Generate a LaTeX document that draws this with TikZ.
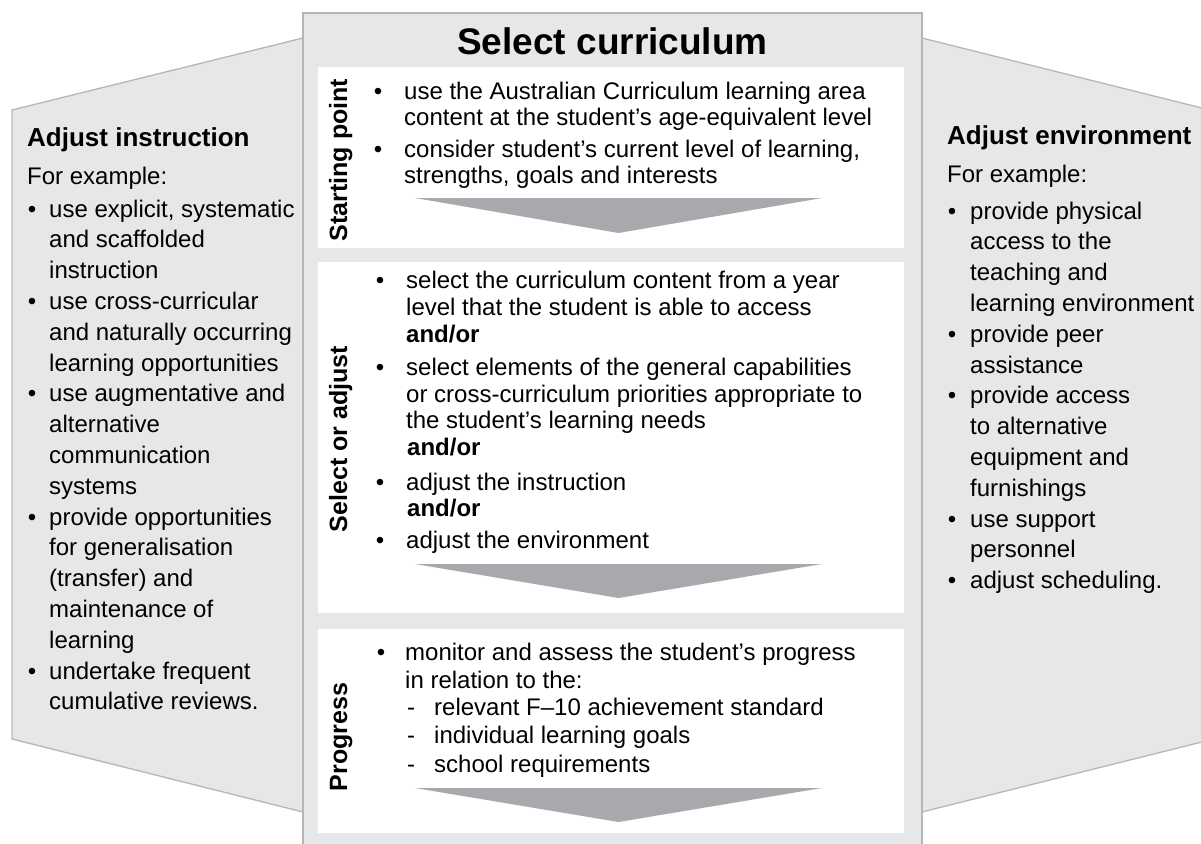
\documentclass[tikz,border=0pt]{standalone}
\usepackage{fontspec}
\setmainfont{Liberation Sans}
\definecolor{panel}{HTML}{E6E7E8}
\definecolor{edge}{HTML}{B4B6B8}
\definecolor{arrowgrey}{HTML}{A7A9AC}
\begin{document}
\begin{tikzpicture}[x=1pt,y=-1pt,
  body/.style={anchor=base west, inner sep=0pt, font=\fontsize{24}{24}\selectfont},
  bodyb/.style={anchor=base west, inner sep=0pt, font=\fontsize{24}{24}\selectfont\bfseries},
  head/.style={anchor=base west, inner sep=0pt, font=\fontsize{26}{26}\selectfont\bfseries},
  dot/.style={anchor=base, inner sep=0pt, font=\fontsize{24}{24}\selectfont},
  side/.style={rotate=90, anchor=base, inner sep=0pt, font=\fontsize{25}{25}\selectfont\bfseries},
  panelshape/.style={fill=panel, draw=edge, line width=1.3pt},
  card/.style={fill=white},
  downarrow/.style={fill=arrowgrey}]
\useasboundingbox (0,0) rectangle (1201,843);
\clip (0,0) rectangle (1201,843);

% side panels
\path[panelshape] (12,110) -- (303,38) -- (303,812) -- (12,739) -- cycle;
\path[panelshape] (922,38) -- (1206,109) -- (1206,741) -- (922,812) -- cycle;

% central panel and its three cards
\path[panelshape] (303,13) rectangle (922,860);
\path[card] (318,67) rectangle (904,248);
\path[card] (318,262) rectangle (904,613);
\path[card] (318,629) rectangle (904,833);

% downward chevrons
\path[downarrow] (415,198) -- (822,198) -- (618.5,233) -- cycle;
\path[downarrow] (415,564) -- (822,564) -- (618.5,598) -- cycle;
\path[downarrow] (415,788) -- (822,788) -- (618.5,822) -- cycle;

% title
\node[anchor=base, inner sep=0pt, font=\fontsize{37}{37}\selectfont\bfseries] (title) at (612.5,55) {Select curriculum};

% vertical stage labels
\node[side] (lstart) at (347,160) {Starting point};
\node[side] (lselect) at (347,439) {Select or adjust};
\node[side] (lprog) at (347,737) {Progress};

% starting point
\node[dot] (s1d) at (378,99) {•};
\node[body] (s1a) at (404,99) {use the Australian Curriculum learning area};
\node[body] (s1b) at (404,125) {content at the student’s age-equivalent level};
\node[dot] (s2d) at (378,157) {•};
\node[body] (s2a) at (404,157) {consider student’s current level of learning,};
\node[body] (s2b) at (404,183) {strengths, goals and interests};

% select or adjust
\node[dot] (a1d) at (380,288) {•};
\node[body] (a1a) at (406,288) {select the curriculum content from a year};
\node[body] (a1b) at (406,315) {level that the student is able to access};
\node[bodyb] (a1c) at (406,342) {and/or};
\node[dot] (a2d) at (380,375) {•};
\node[body] (a2a) at (406,375) {select elements of the general capabilities};
\node[body] (a2b) at (406,402) {or cross-curriculum priorities appropriate to};
\node[body] (a2c) at (406,428) {the student’s learning needs};
\node[bodyb] (a2e) at (407,455) {and/or};
\node[dot] (a3d) at (380,490) {•};
\node[body] (a3a) at (406,490) {adjust the instruction};
\node[bodyb] (a3b) at (407,516) {and/or};
\node[dot] (a4d) at (380,548) {•};
\node[body] (a4a) at (406,548) {adjust the environment};

% progress
\node[dot] (p1d) at (381,660) {•};
\node[body] (p1a) at (405,660) {monitor and assess the student’s progress};
\node[body] (p1b) at (405,688) {in relation to the:};
\node[dot] (p2d) at (411,715) {-};
\node[body] (p2a) at (434,715) {relevant F–10 achievement standard};
\node[dot] (p3d) at (411,743) {-};
\node[body] (p3a) at (434,743) {individual learning goals};
\node[dot] (p4d) at (411,772) {-};
\node[body] (p4a) at (434,772) {school requirements};

% adjust instruction
\node[head] (ih) at (27,146) {Adjust instruction};
\node[body] (ie) at (27,184) {For example:};
\node[dot] (i1d) at (32,217) {•};
\node[body] (i1a) at (49,217) {use explicit, systematic};
\node[body] (i1b) at (49,247.8) {and scaffolded};
\node[body] (i1c) at (49,278.6) {instruction};
\node[dot] (i2d) at (32,309.4) {•};
\node[body] (i2a) at (49,309.4) {use cross-curricular};
\node[body] (i2b) at (49,340.2) {and naturally occurring};
\node[body] (i2c) at (49,371) {learning opportunities};
\node[dot] (i3d) at (32,401.8) {•};
\node[body] (i3a) at (49,401.8) {use augmentative and};
\node[body] (i3b) at (49,432.6) {alternative};
\node[body] (i3c) at (49,463.4) {communication};
\node[body] (i3e) at (49,494.2) {systems};
\node[dot] (i4d) at (32,525) {•};
\node[body] (i4a) at (49,525) {provide opportunities};
\node[body] (i4b) at (49,555.8) {for generalisation};
\node[body] (i4c) at (49,586.6) {(transfer) and};
\node[body] (i4e) at (49,617.4) {maintenance of};
\node[body] (i4f) at (49,648.2) {learning};
\node[dot] (i5d) at (32,679) {•};
\node[body] (i5a) at (49,679) {undertake frequent};
\node[body] (i5b) at (49,709.8) {cumulative reviews.};

% adjust environment
\node[head] (eh) at (947,144) {Adjust environment};
\node[body] (ee) at (947,182) {For example:};
\node[dot] (e1d) at (952,219) {•};
\node[body] (e1a) at (970,219) {provide physical};
\node[body] (e1b) at (970,249.8) {access to the};
\node[body] (e1c) at (970,280.6) {teaching and};
\node[body] (e1e) at (970,311.4) {learning environment};
\node[dot] (e2d) at (952,342.2) {•};
\node[body] (e2a) at (970,342.2) {provide peer};
\node[body] (e2b) at (970,373) {assistance};
\node[dot] (e3d) at (952,403.8) {•};
\node[body] (e3a) at (970,403.8) {provide access};
\node[body] (e3b) at (970,434.6) {to alternative};
\node[body] (e3c) at (970,465.4) {equipment and};
\node[body] (e3e) at (970,496.2) {furnishings};
\node[dot] (e4d) at (952,527) {•};
\node[body] (e4a) at (970,527) {use support};
\node[body] (e4b) at (970,557.8) {personnel};
\node[dot] (e5d) at (952,588.6) {•};
\node[body] (e5a) at (970,588.6) {adjust scheduling.};
\end{tikzpicture}
\end{document}
